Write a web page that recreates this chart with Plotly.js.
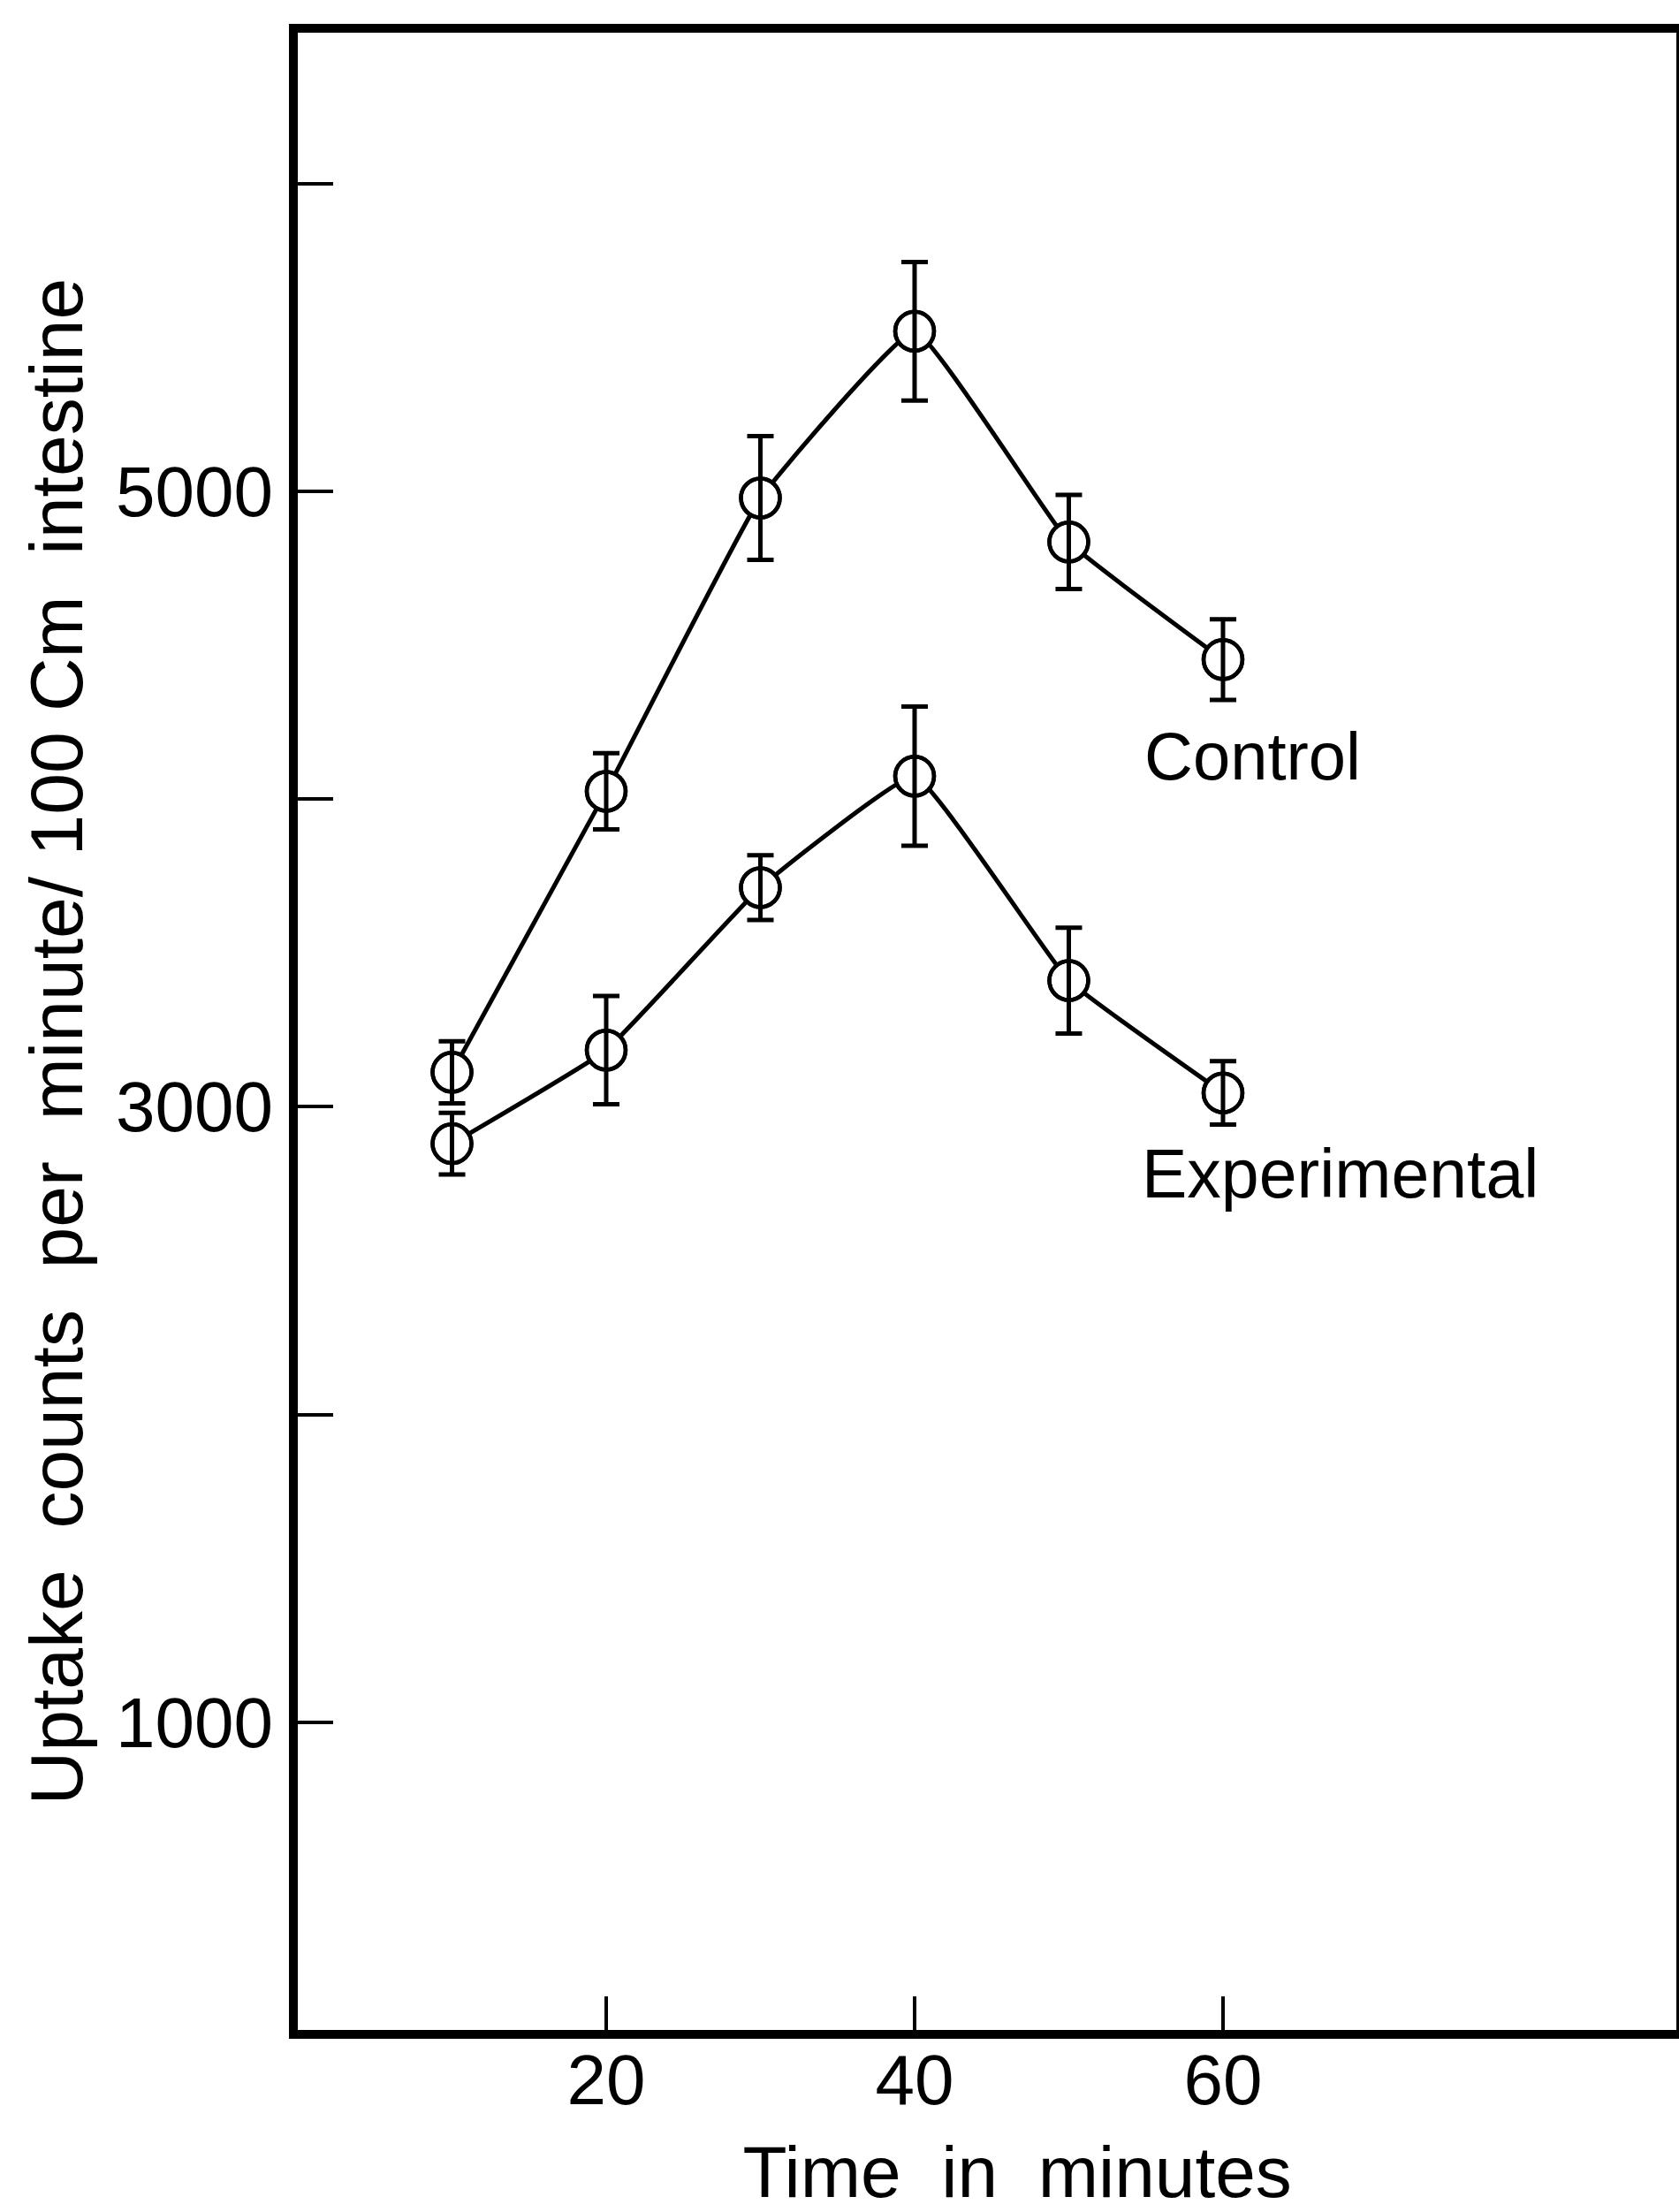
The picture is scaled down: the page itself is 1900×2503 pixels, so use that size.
<!DOCTYPE html>
<html>
<head>
<meta charset="utf-8">
<script src="https://cdn.plot.ly/plotly-3.0.1.min.js"></script>
<style>html,body{margin:0;padding:0;background:#fff;}#chart{width:1900px;height:2503px;}</style>
</head>
<body>
<div id="chart"></div>
<script>
// Time in minutes
const times = [10, 20, 30, 40, 50, 60];
// Control series (counts per minute / 100 Cm intestine) and error half-widths
const controlValues = [3112, 4025, 4978, 5520, 4835, 4453];
const controlErrors = [101, 124, 201, 225, 153, 131];
// Experimental series and error half-widths
const experimentalValues = [2880, 3184, 3712, 4074, 3410, 3045];
const experimentalErrors = [100, 176, 105, 226, 172, 103];
// Tick labels
const xTickVals = [20, 40, 60];
const xTickText = ['20', '40', '60'];
const yTickVals = [1000, 2000, 3000, 4000, 5000, 6000];
const yTickText = ['1000', '', '3000', '', '5000', ''];
// Curve labels
const seriesNames = ['Control', 'Experimental'];

const FONT = 'Liberation Sans, Arial, sans-serif';
const INK = '#000000';

function seriesTraces(values, errors, name) {
  return [
    {
      x: times, y: values, name: name, type: 'scatter', mode: 'lines+markers',
      line: {color: INK, width: 5, shape: 'spline', smoothing: 0.3},
      marker: {symbol: 'circle', size: 44, color: '#ffffff', line: {color: INK, width: 4.5}},
      showlegend: false, hoverinfo: 'skip'
    },
    {
      x: times, y: values, name: name, type: 'scatter', mode: 'markers',
      marker: {symbol: 'circle-open', size: 44, color: INK, line: {color: INK, width: 4.5}},
      error_y: {type: 'data', array: errors, visible: true, color: INK, thickness: 5, width: 15},
      showlegend: false
    }
  ];
}

const data = [].concat(
  seriesTraces(controlValues, controlErrors, seriesNames[0]),
  seriesTraces(experimentalValues, experimentalErrors, seriesNames[1])
);

const layout = {
  width: 1900, height: 2503,
  margin: {l: 337, r: 3, t: 37, b: 206, pad: 0},
  paper_bgcolor: '#ffffff', plot_bgcolor: '#ffffff',
  font: {family: FONT, color: INK, size: 78},
  showlegend: false,
  xaxis: {
    range: [0, 89.4], showgrid: false, zeroline: false,
    showline: true, linecolor: INK, linewidth: 10, mirror: true,
    ticks: 'inside', ticklen: 38, tickwidth: 4, tickcolor: INK,
    tickmode: 'array', tickvals: xTickVals, ticktext: xTickText,
    tickfont: {family: FONT, size: 80, color: INK}, ticklabelstandoff: -22,
    title: {text: '&nbsp;&nbsp;&nbsp;Time&nbsp;&nbsp;in&nbsp;&nbsp;minutes', font: {family: FONT, size: 82, color: INK}, standoff: 105}
  },
  yaxis: {
    range: [0, 6490], showgrid: false, zeroline: false,
    showline: true, linecolor: INK, linewidth: 10, mirror: true,
    ticks: 'inside', ticklen: 40, tickwidth: 4, tickcolor: INK,
    tickmode: 'array', tickvals: yTickVals, ticktext: yTickText,
    tickfont: {family: FONT, size: 80, color: INK}, ticklabelstandoff: 2,
    title: {text: 'Uptake&nbsp;&nbsp;counts&nbsp;&nbsp;per&nbsp;&nbsp;minute/ 100 Cm&nbsp;&nbsp;intestine&nbsp;', font: {family: FONT, size: 84, color: INK}, standoff: 14}
  },
  annotations: [
    {x: 54.8, y: 4140, xref: 'x', yref: 'y', text: seriesNames[0], showarrow: false,
     xanchor: 'left', yanchor: 'middle', font: {family: FONT, size: 76, color: INK}},
    {x: 54.6, y: 2782, xref: 'x', yref: 'y', text: seriesNames[1], showarrow: false,
     xanchor: 'left', yanchor: 'middle', font: {family: FONT, size: 77, color: INK}}
  ]
};

Plotly.newPlot('chart', data, layout, {staticPlot: true, displayModeBar: false});
</script>
</body>
</html>
